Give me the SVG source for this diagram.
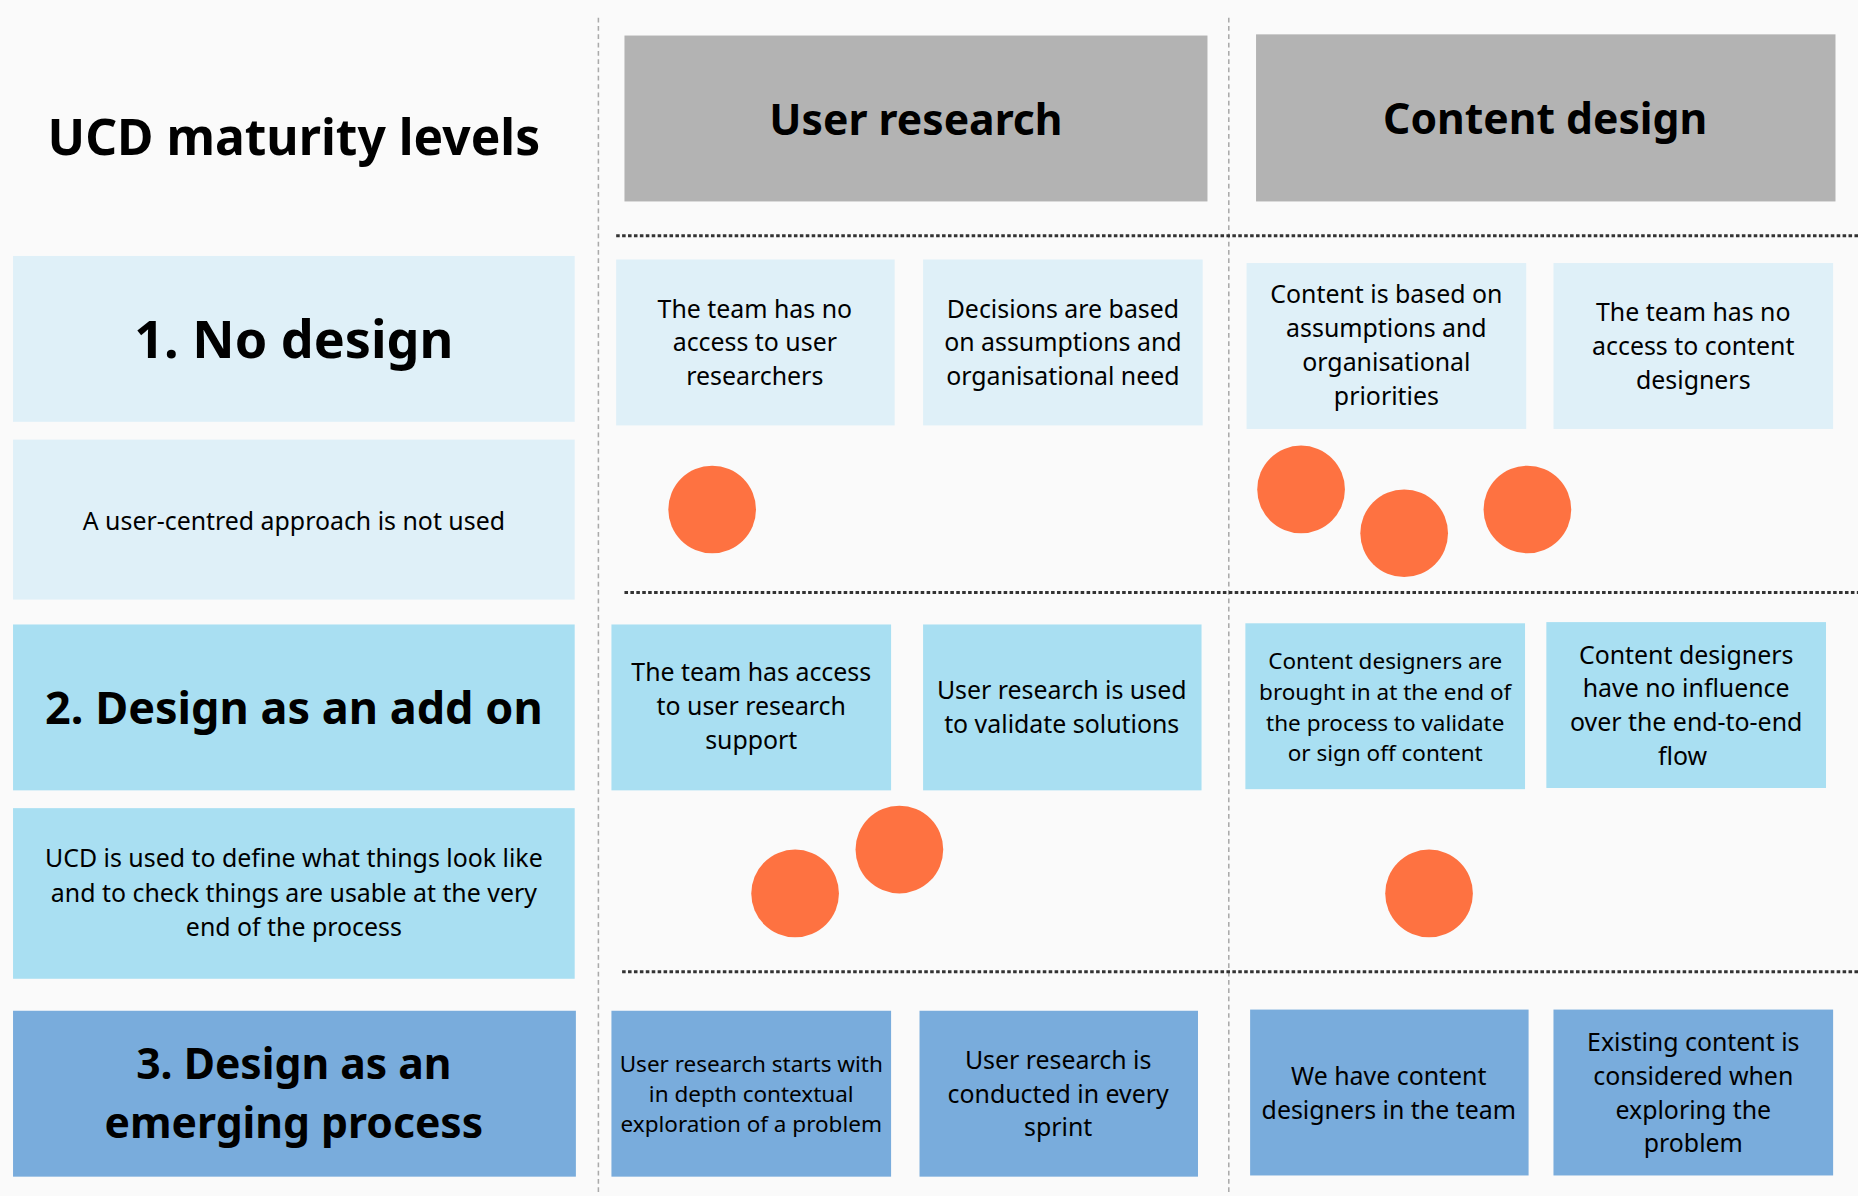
<svg xmlns="http://www.w3.org/2000/svg" width="1858" height="1196" viewBox="0 0 1858 1196">
<style>
text{font-family:"Noto Sans","Open Sans",sans-serif;fill:#000;text-anchor:middle}
.b{font-weight:bold}
.t{font-size:21px}
.c1{fill:#dff0f8}.c2{fill:#a9dff2}.c3{fill:#79acdc}.h{fill:#b3b3b3}
.dot{fill:#fe7241}
.v{stroke:#aaa;stroke-width:1.3;stroke-dasharray:4 3;fill:none}
.d{stroke:#333;stroke-width:2.5;stroke-dasharray:3 2;fill:none}
</style>
<rect width="1858" height="1196" fill="#fafafa"/>
<g transform="scale(1.18495)">
<g id="connectors">
<line class="v" x1="505" y1="15" x2="505" y2="1009"/>
<line class="v" x1="1037" y1="15" x2="1037" y2="1009"/>
<line class="d" x1="520" y1="199" x2="1568" y2="199"/>
<line class="d" x1="527" y1="500" x2="1568" y2="500"/>
<line class="d" x1="525" y1="820" x2="1568" y2="820"/>
</g>
<g id="title"><text class="b" x="248" y="131" font-size="42">UCD maturity levels</text></g>
<g id="h1"><rect class="h" x="527" y="30" width="492" height="140"/><text class="b" x="773" y="114" font-size="36">User research</text></g>
<g id="h2"><rect class="h" x="1060" y="29" width="489" height="141"/><text class="b" x="1304" y="113" font-size="36">Content design</text></g>
<g id="l1"><rect class="c1" x="11" y="216" width="474" height="140"/><text class="b" x="248" y="302" font-size="44">1. No design</text></g>
<g id="l1b"><rect class="c1" x="11" y="371" width="474" height="135"/><text class="t" x="248" y="447">A user-centred approach is not used</text></g>
<g id="l2"><rect class="c2" x="11" y="527" width="474" height="140"/><text class="b" x="248" y="611" font-size="38">2. Design as an add on</text></g>
<g id="l2b"><rect class="c2" x="11" y="682" width="474" height="144"/><text class="t" x="248" y="732">UCD is used to define what things look like<tspan x="248" dy="29">and to check things are usable at the very</tspan><tspan x="248" dy="29">end of the process</tspan></text></g>
<g id="l3"><rect class="c3" x="11" y="853" width="475" height="140"/><text class="b" x="248" y="911" font-size="36">3.  Design as an<tspan x="248" dy="49">emerging process</tspan></text></g>

<g id="r1a"><rect class="c1" x="520" y="219" width="235" height="140"/><text class="t" x="637" y="268">The team has no<tspan x="637" dy="28.5">access to user</tspan><tspan x="637" dy="28.5">researchers</tspan></text></g>
<g id="r1b"><rect class="c1" x="779" y="219" width="236" height="140"/><text class="t" x="897" y="268">Decisions are based<tspan x="897" dy="28.5">on assumptions and</tspan><tspan x="897" dy="28.5">organisational need</tspan></text></g>
<g id="r1c"><rect class="c1" x="1052" y="222" width="236" height="140"/><text class="t" x="1170" y="256">Content is based on<tspan x="1170" dy="28.5">assumptions and</tspan><tspan x="1170" dy="28.5">organisational</tspan><tspan x="1170" dy="28.5">priorities</tspan></text></g>
<g id="r1d"><rect class="c1" x="1311" y="222" width="236" height="140"/><text class="t" x="1429" y="271">The team has no<tspan x="1429" dy="28.5">access to content</tspan><tspan x="1429" dy="28.5">designers</tspan></text></g>

<g id="r2a"><rect class="c2" x="516" y="527" width="236" height="140"/><text class="t" x="634" y="575">The team has access<tspan x="634" dy="28.5">to user research</tspan><tspan x="634" dy="28.5">support</tspan></text></g>
<g id="r2b"><rect class="c2" x="779" y="527" width="235" height="140"/><text class="t" x="896" y="590">User research is used<tspan x="896" dy="28.5">to validate solutions</tspan></text></g>
<g id="r2c"><rect class="c2" x="1051" y="526" width="236" height="140"/><text x="1169" y="565" font-size="19">Content designers are<tspan x="1169" dy="25.8">brought in at the end of</tspan><tspan x="1169" dy="25.8">the process to validate</tspan><tspan x="1169" dy="25.8">or sign off content</tspan></text></g>
<g id="r2d"><rect class="c2" x="1305" y="525" width="236" height="140"/><text class="t" x="1423" y="560">Content designers<tspan x="1423" dy="28.5">have no influence</tspan><tspan x="1423" dy="28.5">over the end-to-end</tspan><tspan x="1420" dy="28.5">flow</tspan></text></g>

<g id="r3a"><rect class="c3" x="516" y="853" width="236" height="140"/><text x="634" y="905" font-size="19">User research starts with<tspan x="634" dy="25">in depth contextual</tspan><tspan x="634" dy="25">exploration of a problem</tspan></text></g>
<g id="r3b"><rect class="c3" x="776" y="853" width="235" height="140"/><text class="t" x="893" y="902">User research is<tspan x="893" dy="28.5">conducted in every</tspan><tspan x="893" dy="28.5">sprint</tspan></text></g>
<g id="r3c"><rect class="c3" x="1055" y="852" width="235" height="140"/><text class="t" x="1172" y="916">We have content<tspan x="1172" dy="28.5">designers in the team</tspan></text></g>
<g id="r3d"><rect class="c3" x="1311" y="852" width="236" height="140"/><text class="t" x="1429" y="887">Existing content is<tspan x="1429" dy="28.5">considered when</tspan><tspan x="1429" dy="28.5">exploring the</tspan><tspan x="1429" dy="28.5">problem</tspan></text></g>

<g id="dots">
<circle class="dot" cx="601" cy="430" r="37"/>
<circle class="dot" cx="1098" cy="413" r="37"/>
<circle class="dot" cx="1185" cy="450" r="37"/>
<circle class="dot" cx="1289" cy="430" r="37"/>
<circle class="dot" cx="759" cy="717" r="37"/>
<circle class="dot" cx="671" cy="754" r="37"/>
<circle class="dot" cx="1206" cy="754" r="37"/>
</g>
</g>
</svg>
